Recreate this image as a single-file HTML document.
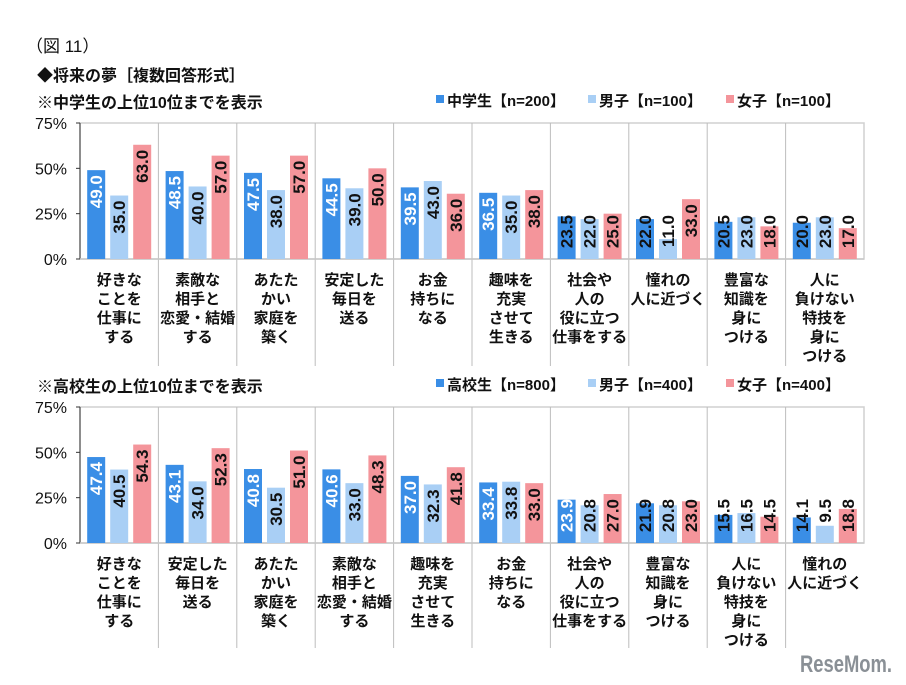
<!DOCTYPE html>
<html><head><meta charset="utf-8">
<style>
body{margin:0;background:#fff;}
svg{display:block;font-family:"Liberation Sans","Noto Sans CJK JP",sans-serif;}
</style></head>
<body>
<svg id="chart" width="906" height="685" viewBox="0 0 906 685" xmlns="http://www.w3.org/2000/svg">
<text x="26" y="52" font-size="17" fill="#111">（図 11）</text>
<text x="37" y="81" font-size="16" font-weight="bold" fill="#111">◆将来の夢［複数回答形式］</text>
<g id="g1"></g>
<g id="g2"></g>
<text x="800" y="672" font-size="24" font-weight="bold" fill="#8a9096" textLength="92" lengthAdjust="spacingAndGlyphs">ReseMom.</text>
</svg>
<script>
const cats1 = [["好きな","ことを","仕事に","する"],["素敵な","相手と","恋愛・結婚","する"],["あたた","かい","家庭を","築く"],["安定した","毎日を","送る"],["お金","持ちに","なる"],["趣味を","充実","させて","生きる"],["社会や","人の","役に立つ","仕事をする"],["憧れの","人に近づく"],["豊富な","知識を","身に","つける"],["人に","負けない","特技を","身に","つける"]];
const total1 = [49.0,48.5,47.5,44.5,39.5,36.5,23.5,22.0,20.5,20.0];
const boys1 = [35.0,40.0,38.0,39.0,43.0,35.0,22.0,11.0,23.0,23.0];
const girls1 = [63.0,57.0,57.0,50.0,36.0,38.0,25.0,33.0,18.0,17.0];
const legend1 = ["中学生【n=200】","男子【n=100】","女子【n=100】"];
const cats2 = [["好きな","ことを","仕事に","する"],["安定した","毎日を","送る"],["あたた","かい","家庭を","築く"],["素敵な","相手と","恋愛・結婚","する"],["趣味を","充実","させて","生きる"],["お金","持ちに","なる"],["社会や","人の","役に立つ","仕事をする"],["豊富な","知識を","身に","つける"],["人に","負けない","特技を","身に","つける"],["憧れの","人に近づく"]];
const total2 = [47.4,43.1,40.8,40.6,37.0,33.4,23.9,21.9,15.5,14.1];
const boys2 = [40.5,34.0,30.5,33.0,32.3,33.8,20.8,20.8,16.5,9.5];
const girls2 = [54.3,52.3,51.0,48.3,41.8,33.0,27.0,23.0,14.5,18.8];
const legend2 = ["高校生【n=800】","男子【n=400】","女子【n=400】"];
const yTicks = [0,25,50,75];

const NS="http://www.w3.org/2000/svg";
const colors=["#3a8ee6","#a9cff5","#f4959b"];
function mk(parent,tag,attrs,txt){const e=document.createElementNS(NS,tag);for(const k in attrs)e.setAttribute(k,attrs[k]);if(txt!==undefined)e.textContent=txt;parent.appendChild(e);return e;}

function drawChart(g,top,bottom,sub,cats,series,legend,sepEnd,prefix){
  const left=80,right=864,cw=(right-left)/cats.length;
  const y=v=>bottom-(v/75)*(bottom-top);
  const s=mk(g,"text",{x:37,y:top-15,"font-size":16,"font-weight":"bold",fill:"#111"},sub);
  
  
  const lx=[436,588,726];
  legend.forEach((t,i)=>{
    const r=mk(g,"rect",{x:lx[i],y:top-28,width:8,height:8,fill:colors[i]});
    
    
    const lt=mk(g,"text",{x:lx[i]+11,y:top-17,"font-size":15,"font-weight":"bold",fill:"#111"},t);
    
    
  });
  const fr=mk(g,"rect",{x:left,y:top,width:right-left,height:bottom-top,fill:"none",stroke:"#d0d0d0","stroke-width":1.5});
  
  
  for(let i=1;i<cats.length;i++){
    const x=left+i*cw;
    const l=mk(g,"line",{x1:x,y1:top,x2:x,y2:sepEnd,stroke:"#bdbdbd","stroke-width":1});
    
    
  }
  const ax=mk(g,"line",{x1:left,y1:top,x2:left,y2:bottom,stroke:"#333","stroke-width":1});
  
  
  const bx=mk(g,"line",{x1:left,y1:bottom,x2:right,y2:bottom,stroke:"#c8c8c8","stroke-width":1.5});
  
  
  yTicks.forEach(t=>{
    const tk=mk(g,"line",{x1:left-4,y1:y(t),x2:left,y2:y(t),stroke:"#333"});
    
    
    const tl=mk(g,"text",{x:67,y:y(t)+6,"font-size":16,"text-anchor":"end",fill:"#111"},t+"%");
    
    
  });
  const bw=18,gap=5;
  cats.forEach((c,i)=>{
    const cx=left+(i+0.5)*cw;
    series.forEach((arr,j)=>{
      const v=arr[i];
      const bxp=cx+(j-1)*(bw+gap)-bw/2;
      const b=mk(g,"rect",{x:bxp,y:y(v),width:bw,height:bottom-y(v),fill:colors[j]});
      
      
      const ty=Math.min(y(v)+5,bottom-4-40);
      const white=(j===0&&v>=23.7);
      const vl=mk(g,"text",{x:0,y:0,"font-size":17,"font-weight":"bold","text-anchor":"end",fill:white?"#fff":"#111",transform:`translate(${bxp+bw/2+6},${ty}) rotate(-90)`},v.toFixed(1));
      
      
    });
    c.forEach((line,k)=>{
      const cl=mk(g,"text",{x:cx,y:bottom+26+k*19,"font-size":15,"font-weight":"bold","text-anchor":"middle",fill:"#111"},line);
      
      
    });
  });
}
drawChart(document.getElementById("g1"),123,259,"※中学生の上位10位までを表示",cats1,[total1,boys1,girls1],legend1,366,"middle-school");
drawChart(document.getElementById("g2"),407,543,"※高校生の上位10位までを表示",cats2,[total2,boys2,girls2],legend2,648,"high-school");
</script>
</body></html>
